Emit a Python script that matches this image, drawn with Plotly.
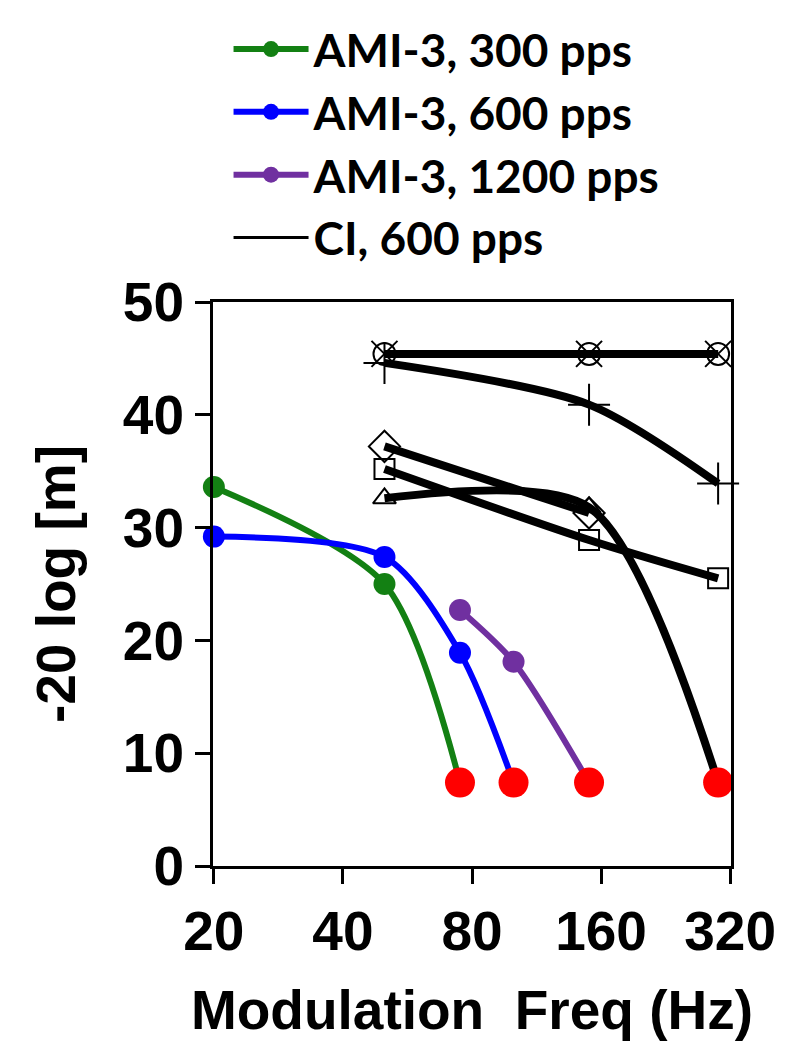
import math
import plotly.graph_objects as go

# ---------------- data ----------------
tick_vals = [20, 40, 80, 160, 320]
tick_text = ["20", "40", "80", "160", "320"]

ami300_freq = [20, 50, 75]
ami300_val = [33.6, 25.0, 7.4]

ami600_freq = [20, 50, 75, 100]
ami600_val = [29.2, 27.4, 18.9, 7.4]

ami1200_freq = [75, 100, 150]
ami1200_val = [22.7, 18.1, 7.4]

ci_freq = [50, 150, 300]
ci_circle_val = [45.4, 45.4, 45.4]
ci_x_val = [45.4, 45.4, 45.4]
ci_plus_val = [44.6, 40.9, 33.9]
ci_diamond_freq = [50, 150]
ci_diamond_val = [37.2, 31.3]
ci_square_val = [35.2, 28.9, 25.5]
ci_triangle_val = [32.6, 31.8, 7.4]

# points that hit the floor (drawn as red dots)
floor_freq = [ami300_freq[-1], ami600_freq[-1], ami1200_freq[-1], ci_freq[-1]]
floor_val = [ami300_val[-1], ami600_val[-1], ami1200_val[-1], ci_triangle_val[-1]]

GREEN = "#138013"
BLUE = "#0000FF"
PURPLE = "#7030A0"
RED = "#FF0000"
BLACK = "#000000"

AX_FONT = dict(family="Liberation Sans, Arial", size=55, color=BLACK, weight="bold")

fig = go.Figure()

# AMI-3 series
for name, fx, fy, col in [
    ("AMI-3, 300 pps", ami300_freq, ami300_val, GREEN),
    ("AMI-3, 600 pps", ami600_freq, ami600_val, BLUE),
    ("AMI-3, 1200 pps", ami1200_freq, ami1200_val, PURPLE),
]:
    fig.add_trace(go.Scatter(
        x=fx, y=fy, name=name, mode="lines+markers",
        line=dict(color=col, width=6, shape="spline", smoothing=0.8),
        marker=dict(color=col, size=22),
        cliponaxis=False,
    ))

# legend entry for CI
fig.add_trace(go.Scatter(
    x=[None], y=[None], name="CI, 600 pps", mode="lines",
    line=dict(color=BLACK, width=3),
))

# CI series
for fx, fy, sym, size in [
    (ci_freq, ci_circle_val, "circle-open", 22),
    (ci_freq, ci_x_val, "x-thin-open", 26),
    (ci_freq, ci_plus_val, "cross-thin-open", 30),
    (ci_diamond_freq, ci_diamond_val, "diamond-open", 24),
    (ci_freq, ci_square_val, "square-open", 20),
    (ci_freq, ci_triangle_val, "triangle-up-open", 20),
]:
    fig.add_trace(go.Scatter(
        x=fx, y=fy, mode="lines+markers", showlegend=False,
        line=dict(color=BLACK, width=8, shape="spline", smoothing=0.8),
        marker=dict(symbol=sym, size=size, color=BLACK, line=dict(color=BLACK, width=2)),
        cliponaxis=False,
    ))

# red floor dots
fig.add_trace(go.Scatter(
    x=floor_freq, y=floor_val, mode="markers", showlegend=False,
    marker=dict(color=RED, size=30),
    cliponaxis=False,
))

axis_common = dict(
    showline=True, linecolor=BLACK, linewidth=3, mirror=True,
    ticks="outside", ticklen=15, tickwidth=3, tickcolor=BLACK,
    showgrid=False, zeroline=False, automargin=False,
    tickfont=AX_FONT,
)

eps = 0.002
fig.update_layout(
    width=788, height=1050,
    margin=dict(l=213, r=57, t=302, b=184),
    paper_bgcolor="white", plot_bgcolor="white",
    xaxis=dict(
        type="log", range=[math.log10(20) - eps, math.log10(320) + eps],
        tickvals=tick_vals, ticktext=tick_text,
        title=dict(text="Modulation\u00a0 Freq (Hz)", font=AX_FONT, standoff=30),
        **axis_common,
    ),
    yaxis=dict(
        range=[0, 50], tickvals=[0, 10, 20, 30, 40, 50],
        title=dict(text="-20 log [m]", font=AX_FONT, standoff=30),
        **axis_common,
    ),
    legend=dict(
        x=0.03, y=1.513, xanchor="left", yanchor="top",
        font=dict(family="Lato", size=46, color=BLACK, weight="bold"),
        bgcolor="rgba(0,0,0,0)", tracegroupgap=0, itemwidth=75,
    ),
    showlegend=True,
)

fig.write_html(
    "out.html",
    config={"displayModeBar": False},
    post_script="document.body.style.margin='0';",
)
